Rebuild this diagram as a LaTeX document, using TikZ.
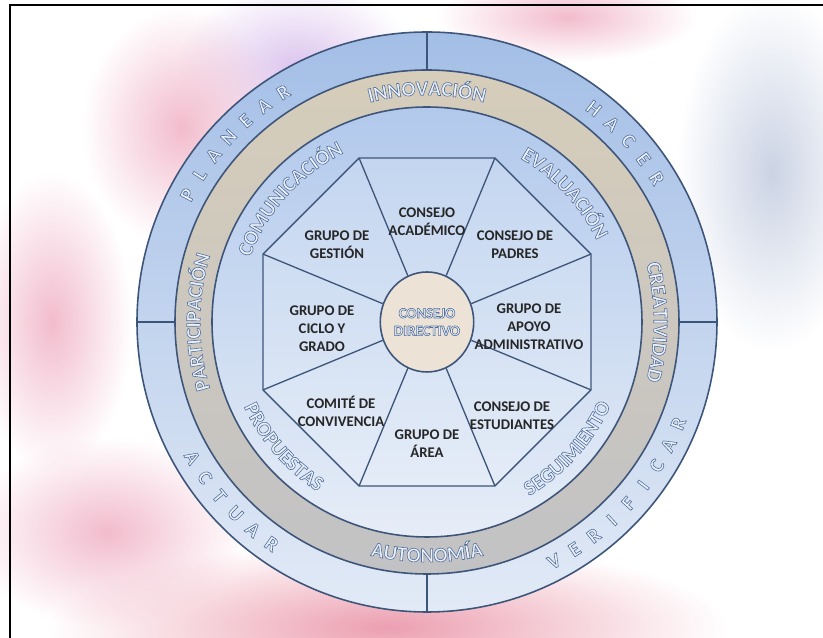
\documentclass[tikz,border=0pt]{standalone}
\usepackage{fontspec}
\setmainfont{Carlito}
\usetikzlibrary{shapes.geometric,decorations.text,fadings}

\definecolor{bandtop}{HTML}{A3BEE6}
\definecolor{bandbot}{HTML}{E2EAF6}
\definecolor{graytop}{HTML}{D6CDBA}
\definecolor{graybot}{HTML}{C2C2C4}
\definecolor{innertop}{HTML}{B2C9EC}
\definecolor{innerbot}{HTML}{E6EDF7}
\definecolor{octtop}{HTML}{C4D6F0}
\definecolor{octbot}{HTML}{E4ECF7}
\definecolor{ctrfill}{HTML}{ECE3D6}
\definecolor{lineblue}{HTML}{3E557A}
\definecolor{ringtxt}{HTML}{8A9DBF}
\definecolor{lettercol}{HTML}{7F95BC}
\definecolor{ctrtxt}{HTML}{5A7BB5}
\definecolor{washpink}{HTML}{F2BCCD}
\definecolor{washlilac}{HTML}{DCC4EE}
\definecolor{washred}{HTML}{EC9FB0}
\definecolor{washblue}{HTML}{CBD3E4}

% letra hueca: relleno claro, contorno azul
\newcommand{\hollow}{\special{pdf:literal direct 0.33 0.44 0.62 RG 0.93 0.95 0.98 rg 2 Tr 0.35 w}}
\newcommand{\solid}{\special{pdf:literal direct 0 Tr}}
\newcommand{\ringfont}{\bfseries\fontsize{11.8}{13}\selectfont\color{ringtxt}\hollow}

\tikzfading[name=softblob, inner color=transparent!0, outer color=transparent!100]

\tikzset{
  rim/.style={draw=lineblue, line width=0.9pt},
  cellline/.style={draw=lineblue, line width=0.75pt},
  celltext/.style={font=\solid\bfseries\fontsize{8.4}{10.2}\selectfont, text=black!85, align=center},
  outerletter/.style={font=\bfseries\fontsize{11.5}{11.5}\selectfont\color{lettercol}\hollow, inner sep=0pt},
  ringword/.style={decorate, decoration={text along path, text align=center, text={|\ringfont|#1}}},
  wash/.style={fill=#1, path fading=softblob}
}

\begin{document}
\begin{tikzpicture}[x=0.02cm,y=0.02cm]
\useasboundingbox (-427,-316) rectangle (396,322);

% acuarela de fondo
\path[wash=washlilac] (-130,255) ellipse (120 and 85);
\path[wash=washpink] (-245,195) ellipse (100 and 120);
\path[wash=washpink] (-375,0) ellipse (80 and 150);
\path[wash=washred] (-40,-305) ellipse (340 and 85);
\path[wash=washpink] (-320,-210) ellipse (140 and 95);
\path[wash=washblue] (345,150) ellipse (95 and 180);
\path[wash=washpink] (140,305) ellipse (130 and 45);

\draw[line width=1.4pt] (-417,-316) -- (-417,317) -- (396,317);

% anillos
\shade[top color=bandtop, bottom color=bandbot] (0,0) circle (290);
\shade[top color=graytop, bottom color=graybot] (0,0) circle (252);
\shade[top color=innertop, bottom color=innerbot] (0,0) circle (215);
\draw[rim] (0,0) circle (290) (0,0) circle (252) (0,0) circle (215);

\foreach \a/\n in {90/n,0/e,270/s,180/w} {
  \coordinate (\n in) at (\a:252);
  \coordinate (\n out) at (\a:290);
  \draw[rim] (\n in) -- (\n out);
}

% letras exteriores
\foreach \ch [count=\i] in {P,L,A,N,E,A,R}
  \node[outerletter, rotate={152-5*(\i-1)-90}] (pl\i) at ({152-5*(\i-1)}:271) {\ch};
\foreach \ch [count=\i] in {H,A,C,E,R}
  \node[outerletter, rotate={52-5*(\i-1)-90}] (ha\i) at ({52-5*(\i-1)}:271) {\ch};
\foreach \ch [count=\i] in {V,E,R,I,F,I,C,A,R}
  \node[outerletter, rotate={-62+5*(\i-1)+90}] (ve\i) at ({-62+5*(\i-1)}:271) {\ch};
\foreach \ch [count=\i] in {A,C,T,U,A,R}
  \node[outerletter, rotate={-150+5*(\i-1)+90}] (ac\i) at ({-150+5*(\i-1)}:271) {\ch};

% anillo gris
\path[ringword=INNOVACIÓN] (118:226.8) arc[start angle=118, end angle=62, radius=226.8];
\path[ringword=CREATIVIDAD] (34:226.8) arc[start angle=34, end angle=-34, radius=226.8];
\path[ringword=AUTONOMÍA] (242:240.2) arc[start angle=242, end angle=298, radius=240.2];
\path[ringword=PARTICIPACIÓN] (214:226.8) arc[start angle=214, end angle=146, radius=226.8];

% banda interior
\path[ringword=COMUNICACIÓN] (172:188.3) arc[start angle=172, end angle=104, radius=188.3];
\path[ringword=EVALUACIÓN] (77:188.3) arc[start angle=77, end angle=9, radius=188.3];
\path[ringword=SEGUIMIENTO] (-76:201.7) arc[start angle=-76, end angle=-8, radius=201.7];
\path[ringword=PROPUESTAS] (-173:201.7) arc[start angle=-173, end angle=-105, radius=201.7];

% octagono
\foreach \k in {1,...,8}
  \coordinate (v\k) at ({22.5+45*(\k-1)}:177.5);
\shade[top color=octtop, bottom color=octbot] (v1) -- (v2) -- (v3) -- (v4) -- (v5) -- (v6) -- (v7) -- (v8) -- cycle;
\draw[cellline] (v1) -- (v2) -- (v3) -- (v4) -- (v5) -- (v6) -- (v7) -- (v8) -- cycle;

\node[ellipse, draw=lineblue, line width=0.9pt, fill=ctrfill, minimum width=1.72cm, minimum height=2cm, inner sep=0pt,
  font=\bfseries\fontsize{8.4}{10}\selectfont\color{ctrtxt}\hollow, align=center] (ctr) at (0,0) {CONSEJO\\DIRECTIVO};
\foreach \k in {1,...,8}
  \draw[cellline] (ctr) -- (v\k);

\node[celltext] (acad) at (0,100) {CONSEJO\\ACADÉMICO};
\node[celltext] (padr) at (88,77) {CONSEJO DE\\PADRES};
\node[celltext] (apoyo) at (102,-5) {GRUPO DE\\APOYO\\ADMINISTRATIVO};
\node[celltext] (estu) at (85,-94) {CONSEJO DE\\ESTUDIANTES};
\node[celltext] (area) at (0,-122) {GRUPO DE\\ÁREA};
\node[celltext] (conv) at (-86,-89) {COMITÉ DE\\CONVIVENCIA};
\node[celltext] (ciclo) at (-105,-7) {GRUPO DE\\CICLO Y\\GRADO};
\node[celltext] (gest) at (-90,77) {GRUPO DE\\GESTIÓN};
\end{tikzpicture}
\end{document}
